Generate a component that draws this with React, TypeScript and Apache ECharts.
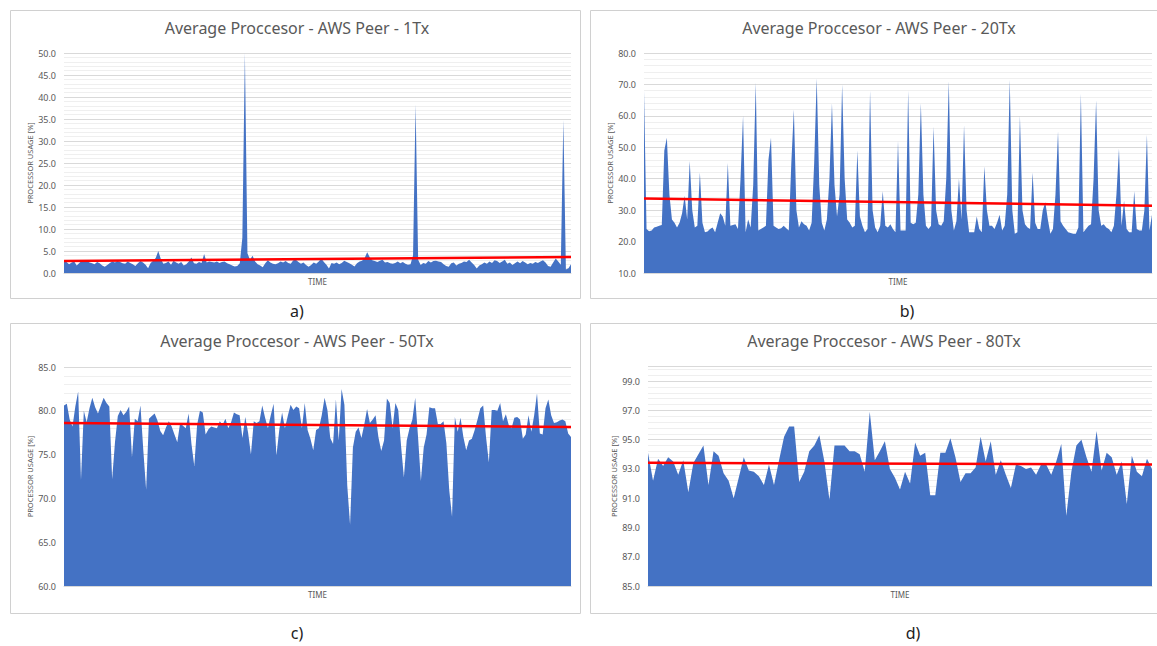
import React, { useEffect, useRef } from "react";
import * as echarts from "echarts";

// ---------- data ----------
const TITLES = [
  "Average Proccesor - AWS Peer - 1Tx",
  "Average Proccesor - AWS Peer - 20Tx",
  "Average Proccesor - AWS Peer - 50Tx",
  "Average Proccesor - AWS Peer - 80Tx",
];
const CAPTIONS = ["a)", "b)", "c)", "d)"];
const X_NAME = "TIME";
const Y_NAME = "PROCESSOR USAGE [%]";

const Y_MIN = [0, 10, 60, 85];
const Y_MAX = [50, 80, 85, 100];
const Y_STEP = [5, 10, 5, 2];

const USAGE_1TX = [
  2.7, 2.5, 2.0, 2.4, 2.6, 1.7, 2.3, 2.8, 2.5, 2.7, 2.4, 2.2, 2.0, 2.5, 2.2, 1.7, 1.4, 1.8, 2.3, 2.6,
  2.4, 2.7, 2.5, 2.2, 2.1, 2.6, 2.3, 2.0, 1.6, 2.2, 2.7, 2.4, 1.9, 1.1, 2.3, 2.8, 3.4, 5.0, 3.2, 2.1,
  2.3, 2.6, 1.9, 2.8, 2.4, 2.1, 2.5, 1.7, 2.0, 2.6, 3.5, 2.2, 2.1, 2.5, 2.3, 4.3, 2.4, 2.6, 2.5, 2.4,
  2.6, 2.3, 2.5, 2.6, 2.2, 2.0, 1.7, 1.5, 1.6, 2.2, 8.0, 50.0, 4.5, 3.0, 3.9, 2.6, 2.0, 1.7, 1.3, 2.2,
  2.9, 2.4, 2.1, 2.0, 2.2, 2.6, 2.4, 2.7, 2.3, 2.1, 2.9, 3.0, 2.5, 2.1, 2.4, 1.8, 1.4, 1.8, 2.4, 2.1,
  2.6, 3.3, 2.5, 1.9, 1.0, 2.3, 2.1, 2.4, 2.0, 2.3, 2.8, 2.5, 2.2, 1.9, 1.5, 2.2, 2.6, 2.8, 3.4, 4.7,
  3.6, 2.9, 2.7, 2.5, 2.8, 3.0, 2.4, 2.5, 2.2, 2.1, 2.3, 2.6, 2.2, 2.5, 2.1, 1.9, 2.0, 4.0, 38.3, 3.0,
  1.8, 2.3, 2.1, 2.7, 2.4, 2.7, 2.8, 2.6, 2.5, 2.0, 1.6, 1.4, 2.2, 2.4, 1.7, 2.1, 2.3, 2.6, 2.5, 3.0,
  2.4, 1.8, 1.0, 1.7, 2.0, 2.4, 2.1, 2.6, 2.3, 2.9, 2.7, 2.3, 2.6, 3.0, 2.1, 2.4, 1.8, 2.2, 2.6, 2.2,
  2.7, 2.4, 2.0, 2.3, 2.1, 2.5, 2.3, 2.6, 2.9, 2.4, 1.6, 1.4, 2.4, 3.3, 2.6, 1.9, 34.8, 0.8, 1.1, 2.0,
];

const USAGE_20TX = [
  68, 24, 23.3, 23.5, 24.5, 24.7, 25, 25.3, 49, 53, 35, 27, 26, 24.5, 26, 29, 34.6, 27, 45.6, 30,
  24.5, 25, 42, 26, 23, 23.2, 24, 24.5, 23, 26, 29, 28, 25, 45, 25, 25.3, 25.5, 24, 40, 60,
  23, 27, 24.5, 38, 70.5, 23.5, 24, 24.5, 25, 46, 53, 25, 24.5, 24, 24.2, 25, 24.2, 23.5, 45, 62,
  30, 24.5, 26.5, 25.5, 25, 23.5, 26, 45, 72, 38, 26, 23.5, 27, 40, 64, 38, 28, 35, 70, 40,
  27, 26, 24.5, 25, 49, 28, 25, 23, 24, 68, 30, 24.5, 23, 25, 36, 25, 24.5, 25.5, 24, 23,
  52, 23.5, 23.5, 23.5, 68, 26, 25.5, 26, 35, 64, 35, 25, 24, 25, 56.5, 30, 25.5, 25, 26.5, 40,
  71, 30, 23.5, 26.5, 40, 27, 57, 30, 23, 23, 23, 28, 24, 23, 44, 30, 25, 25, 24, 26,
  28.5, 23.5, 25, 35, 71.5, 30, 22.5, 23, 60, 30, 25.5, 24.5, 24, 42, 26, 24, 24, 30, 32.5, 27,
  22.5, 24, 35, 55, 26.5, 25, 24, 23, 22.7, 22.5, 22.5, 24.5, 67, 23, 24, 25, 25.5, 40, 65, 30,
  25, 25.5, 24.5, 24, 23, 25, 35, 49.5, 25, 33, 24, 23, 23, 36, 24, 23.5, 23.5, 30, 54, 23.5,
  28.5,
];

const USAGE_50TX = [
  80.6, 80.8, 79.0, 78.2, 80.5, 82.2, 72.1, 80.0, 78.7, 80.3, 81.5, 80.4, 79.7, 80.6, 81.5, 80.9, 80.5, 72.2, 76.4, 79.4,
  80.1, 79.5, 79.9, 80.5, 74.7, 79.1, 78.8, 80.6, 75.5, 71.0, 79.1, 79.4, 79.7, 78.9, 77.7, 77.2, 78.1, 78.8, 78.2, 77.3,
  76.4, 78.6, 78.3, 78.0, 79.7, 76.2, 73.7, 78.4, 80.0, 79.8, 77.3, 77.9, 78.2, 78.1, 78.0, 78.8, 78.4, 79.1, 78.0, 78.7,
  79.8, 79.6, 79.5, 76.9, 79.3, 77.5, 75.0, 78.8, 78.6, 78.8, 80.6, 79.2, 78.0, 79.5, 80.8, 74.9, 77.8, 79.8, 78.0, 79.4,
  80.7, 80.1, 80.5, 80.3, 78.0, 80.9, 77.8, 76.8, 75.5, 77.8, 78.0, 79.5, 81.5, 80.1, 76.9, 76.2, 81.3, 76.6, 82.5, 80.7,
  71.5, 67.0, 75.8, 77.6, 78.1, 76.9, 78.4, 80.2, 78.6, 79.0, 79.5, 77.0, 75.4, 76.6, 81.4, 80.9, 78.0, 80.9, 80.1, 76.0,
  72.4, 76.6, 78.0, 79.0, 81.5, 77.0, 72.0, 75.8, 77.3, 80.4, 80.3, 80.3, 78.5, 78.5, 78.8, 76.3, 71.0, 67.9, 79.3, 77.6,
  79.2, 77.0, 75.5, 76.6, 76.8, 77.8, 79.0, 80.3, 80.6, 77.0, 74.1, 80.1, 80.1, 80.0, 80.9, 78.8, 79.6, 78.4, 78.0, 79.2,
  79.3, 79.0, 76.8, 77.3, 79.5, 77.6, 79.5, 82.0, 77.4, 77.3, 80.3, 81.3, 79.5, 78.6, 78.7, 78.9, 79.0, 78.8, 77.4, 77.0,
];

const USAGE_80TX = [
  94.1, 92.2, 93.7, 93.2, 93.8, 93.5, 92.6, 93.6, 91.4, 93.4, 94.0, 94.6, 91.9, 94.2, 93.9, 92.7, 92.2, 91.0, 92.4, 93.8,
  92.9, 92.8, 92.5, 91.9, 93.3, 91.9, 93.6, 95.2, 95.9, 95.9, 92.1, 92.8, 94.2, 94.6, 95.3, 93.5, 90.9, 94.6, 94.6, 94.6,
  94.2, 94.2, 94.0, 92.8, 96.9, 93.6, 94.2, 94.9, 93.0, 92.4, 91.6, 92.8, 92.0, 94.8, 93.9, 94.1, 91.2, 91.2, 94.1, 94.1,
  95.1, 93.8, 92.1, 92.7, 92.7, 93.1, 95.2, 93.5, 94.9, 92.6, 93.6, 92.6, 91.7, 93.3, 93.2, 93.0, 93.1, 92.6, 93.3, 93.3,
  92.6, 93.5, 94.7, 89.8, 92.8, 94.6, 95.0, 93.8, 92.8, 95.6, 92.9, 94.1, 93.8, 92.6, 93.5, 90.6, 93.9, 92.8, 92.5, 93.7,
  93.0,
];

// linear trend line: value at first and last sample
const TREND_1TX = [2.7, 3.65];
const TREND_20TX = [33.7, 31.4];
const TREND_50TX = [78.6, 78.15];
const TREND_80TX = [93.42, 93.31];

const SERIES = [USAGE_1TX, USAGE_20TX, USAGE_50TX, USAGE_80TX];
const TRENDS = [TREND_1TX, TREND_20TX, TREND_50TX, TREND_80TX];

// ---------- layout ----------
const GRIDS = [
  { left: 64, top: 53, width: 507, height: 220 },
  { left: 644, top: 53, width: 508, height: 220 },
  { left: 64, top: 367, width: 507, height: 219 },
  { left: 648, top: 366.5, width: 504, height: 219.5 },
];
const PANELS = [
  { x: 10, y: 10, w: 570, h: 288 },
  { x: 590, y: 10, w: 600, h: 288 },
  { x: 10, y: 323, w: 570, h: 290 },
  { x: 590, y: 323, w: 600, h: 290 },
];
const TITLE_POS = [
  { x: 297, y: 20 },
  { x: 879, y: 20 },
  { x: 297, y: 333 },
  { x: 884, y: 333 },
];
const CAPTION_POS = [
  { x: 297, y: 311 },
  { x: 907, y: 311 },
  { x: 297, y: 633 },
  { x: 913, y: 633 },
];

const FONT = "'Noto Sans', 'Open Sans', sans-serif";
const GREY = "#595959";

export default function App() {
  const ref = useRef<HTMLDivElement>(null);

  useEffect(() => {
    if (!ref.current) return;
    const chart = echarts.init(ref.current, undefined, { renderer: "svg" });

    const cats = SERIES.map((s) => s.map((_, i) => String(i + 1)));

    const option: any = {
      animation: false,
      backgroundColor: "#ffffff",
      textStyle: { fontFamily: FONT },
      title: TITLES.map((t, k) => ({
        text: t,
        left: TITLE_POS[k].x,
        top: TITLE_POS[k].y,
        textAlign: "center",
        padding: 0,
        textStyle: { fontSize: 16, fontWeight: "normal", color: GREY, fontFamily: FONT },
      })),
      grid: GRIDS.map((g) => ({ ...g, containLabel: false })),
      xAxis: SERIES.map((_, k) => ({
        type: "category",
        gridIndex: k,
        data: cats[k],
        boundaryGap: false,
        name: X_NAME,
        nameLocation: "middle",
        nameGap: 4,
        nameTextStyle: { fontSize: 8, color: GREY, verticalAlign: "top" },
        axisLine: { show: true, lineStyle: { color: "#d9d9d9", width: 1 } },
        axisTick: { show: false },
        axisLabel: { show: false },
        splitLine: { show: false },
      })),
      yAxis: SERIES.map((_, k) => ({
        type: "value",
        gridIndex: k,
        min: Y_MIN[k],
        max: Y_MAX[k],
        interval: Y_STEP[k],
        name: Y_NAME,
        nameLocation: "middle",
        nameRotate: 90,
        nameGap: 30,
        nameTextStyle: { fontSize: 7.5, color: GREY },
        axisLine: { show: false },
        axisTick: { show: false },
        axisLabel: {
          fontSize: 9,
          color: GREY,
          margin: 8,
          showMaxLabel: k === 3 ? false : true,
          formatter: (v: number) => v.toFixed(1),
        },
        splitLine: { show: true, lineStyle: { color: "#d9d9d9", width: 1 } },
        minorTick: { show: false, splitNumber: 5 },
        minorSplitLine: { show: true, lineStyle: { color: "#efefef", width: 1 } },
      })),
      series: SERIES.map((data, k) => ({
        type: "line",
        xAxisIndex: k,
        yAxisIndex: k,
        data,
        symbol: "none",
        showSymbol: false,
        lineStyle: { width: 0, color: "#4472C4" },
        itemStyle: { color: "#4472C4" },
        areaStyle: { color: "#4472C4", opacity: 1, origin: "start" },
        silent: true,
        markLine: {
          silent: true,
          symbol: ["none", "none"],
          label: { show: false },
          lineStyle: { color: "#ff0000", width: 2.5, type: "solid" },
          data: [
            [
              { coord: [cats[k][0], TRENDS[k][0]] },
              { coord: [cats[k][data.length - 1], TRENDS[k][1]] },
            ],
          ],
        },
      })),
      graphic: [
        ...PANELS.map((p) => ({
          type: "rect",
          shape: { x: p.x + 0.5, y: p.y + 0.5, width: p.w, height: p.h },
          style: { fill: "none", stroke: "#d0d0d0", lineWidth: 1 },
          silent: true,
          z: -10,
        })),
        ...CAPTIONS.map((c, k) => ({
          type: "text",
          x: CAPTION_POS[k].x,
          y: CAPTION_POS[k].y,
          style: {
            text: c,
            fontSize: 16,
            fontFamily: FONT,
            fill: "#222222",
            textAlign: "center",
            textVerticalAlign: "middle",
          },
          silent: true,
        })),
      ],
    };

    chart.setOption(option);
    return () => chart.dispose();
  }, []);

  return (
    <div
      ref={ref}
      style={{ position: "absolute", left: 0, top: 0, width: 1157, height: 646, background: "#fff" }}
    />
  );
}
